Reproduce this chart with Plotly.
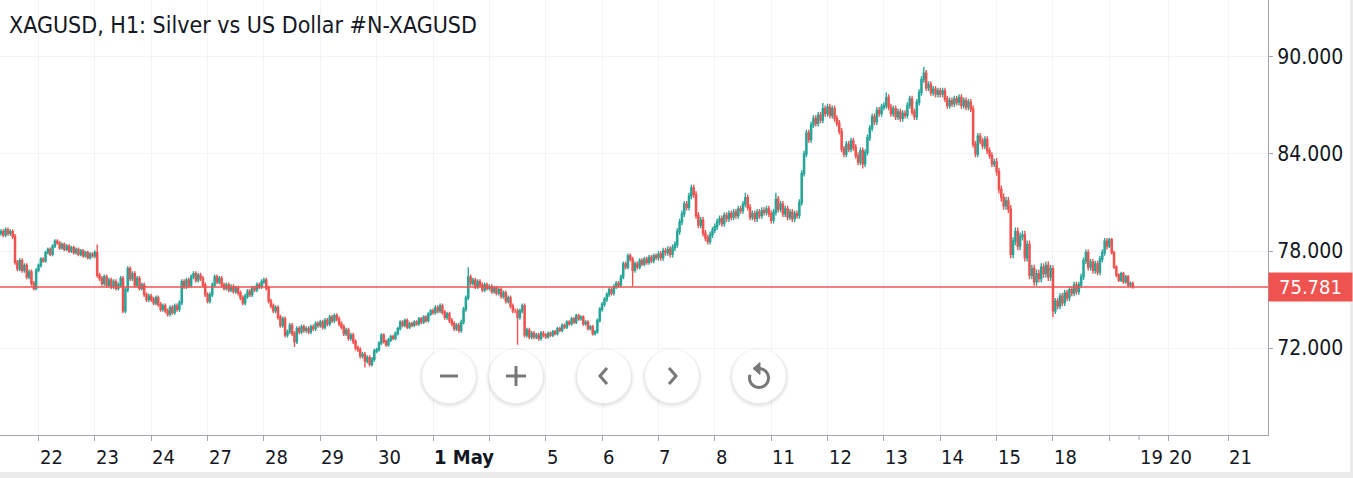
import math
import plotly.graph_objects as go

title = "XAGUSD, H1: Silver vs US Dollar #N-XAGUSD"
last_price = 75.781
first_open = 79.1

# hourly closes per trading day, open = previous close
apr21 = [79.2, 79.0, 79.3, 79.1, 79.2, 78.9, 77.3, 76.9, 77.4, 76.8, 77.1, 76.4, 76.7, 76.0, 75.7, 76.8]  # from 08:00
apr22 = [77.1, 77.5, 77.4, 77.9, 78.1, 77.8, 78.3, 78.6, 78.5, 78.2, 78.4, 78.1, 78.3, 78.0, 78.2, 77.9, 78.1, 77.8, 78.0, 77.7, 77.9, 77.6, 77.8, 77.7]
apr23 = [77.9, 76.5, 76.3, 76.0, 76.4, 75.9, 76.2, 75.8, 76.1, 75.7, 75.9, 76.3, 74.3, 75.6, 76.9, 76.3, 76.6, 75.9, 76.3, 75.7, 75.9, 75.3, 75.0, 75.2]
apr24 = [75.0, 74.8, 75.1, 74.7, 74.4, 74.6, 74.3, 74.1, 74.5, 74.2, 74.6, 74.4, 74.8, 76.1, 75.8, 76.2, 75.9, 76.4, 76.6, 76.2, 76.5, 76.3, 75.9, 75.3]
apr27 = [74.9, 75.3, 75.9, 76.4, 76.1, 76.3, 75.9, 75.7, 75.9, 75.6, 75.8, 75.5, 75.7, 75.4, 75.1, 74.8, 75.2, 75.5, 75.3, 75.7, 75.6, 75.9, 75.8, 76.1]
apr28 = [76.2, 75.7, 74.9, 74.6, 74.3, 74.5, 73.9, 73.4, 73.8, 72.8, 73.0, 73.4, 72.9, 72.4, 73.2, 73.0, 73.3, 73.1, 73.2, 73.0, 73.3, 73.2, 73.5, 73.4]
apr29 = [73.6, 73.3, 73.7, 73.5, 73.9, 73.7, 74.0, 73.8, 73.5, 73.3, 72.9, 73.1, 72.6, 72.8, 72.4, 72.0, 71.9, 71.5, 71.6, 71.2, 71.4, 71.0, 71.3, 71.8]
apr30 = [71.9, 72.3, 72.8, 72.4, 72.2, 72.5, 72.7, 72.6, 72.9, 73.2, 73.6, 73.4, 73.7, 73.3, 73.5, 73.4, 73.6, 73.5, 73.8, 73.6, 73.9, 73.7, 74.1, 74.3]
may01 = [74.2, 74.5, 74.3, 74.6, 74.2, 73.9, 74.1, 73.7, 73.5, 73.2, 73.4, 73.1, 73.6, 74.4, 75.1, 76.4, 76.0, 76.2, 75.8, 76.1, 75.9, 75.6, 75.9, 75.7]
may04 = [75.8, 75.5, 75.7, 75.4, 75.6, 75.2, 75.4, 74.9, 75.1, 74.6, 74.3, 74.3, 73.9, 74.3, 74.6, 72.8, 73.1, 72.7, 72.9, 72.7, 72.8, 72.6, 72.9, 72.8]
may05 = [72.7, 72.9, 72.8, 73.0, 72.9, 73.2, 73.1, 73.4, 73.3, 73.6, 73.5, 73.8, 73.6, 74.0, 73.8, 73.9, 73.5, 73.6, 73.2, 73.3, 72.9, 73.0, 73.7, 74.4]
may06 = [74.7, 75.0, 75.3, 75.6, 75.4, 75.8, 76.0, 75.9, 76.4, 77.2, 77.0, 77.7, 77.5, 76.8, 77.2, 77.0, 77.4, 77.2, 77.5, 77.3, 77.6, 77.4, 77.7, 77.6]
may07 = [77.8, 77.6, 78.0, 77.9, 78.1, 77.8, 78.2, 78.4, 79.2, 79.8, 80.3, 80.9, 80.7, 81.4, 81.9, 81.5, 80.2, 79.6, 79.9, 79.1, 78.8, 78.6, 79.0, 79.3]
may08 = [79.5, 79.8, 80.0, 79.7, 80.2, 80.0, 80.3, 80.1, 80.4, 80.2, 80.6, 80.5, 80.9, 81.3, 80.7, 80.1, 80.3, 80.0, 80.4, 80.2, 80.5, 80.4, 80.6, 80.3]
may11 = [79.9, 80.4, 81.2, 80.6, 80.9, 80.3, 80.6, 80.1, 80.4, 80.0, 80.3, 80.2, 81.0, 82.8, 84.0, 85.3, 84.9, 85.8, 86.2, 85.9, 86.4, 86.1, 86.8, 86.5]
may12 = [86.9, 86.4, 86.8, 86.2, 85.9, 85.4, 84.3, 84.0, 84.6, 84.3, 84.8, 84.4, 83.9, 83.5, 84.2, 83.4, 84.1, 85.0, 85.6, 86.3, 86.0, 86.7, 86.5, 86.9]
may13 = [87.0, 87.5, 86.9, 86.5, 86.8, 86.3, 86.6, 86.2, 86.5, 86.4, 87.0, 87.4, 86.6, 86.3, 87.2, 87.8, 88.6, 89.0, 88.1, 88.3, 87.8, 88.0, 87.7, 87.9]
may14 = [87.7, 87.9, 87.4, 87.0, 87.3, 87.1, 87.4, 87.2, 87.5, 87.0, 87.3, 86.9, 87.2, 86.8, 84.6, 84.0, 85.1, 84.8, 84.5, 84.9, 84.2, 83.9, 83.4, 83.5]
may15 = [82.9, 81.8, 81.3, 80.8, 81.1, 80.6, 77.8, 78.6, 79.2, 78.3, 78.9, 79.0, 77.6, 78.4, 76.5, 76.9, 76.1, 76.6, 76.3, 77.0, 76.6, 77.1, 76.4, 76.9]
may18 = [74.3, 74.9, 74.6, 75.2, 74.8, 75.4, 75.1, 75.6, 75.4, 75.9, 75.5, 75.9, 76.4, 77.4, 77.9, 77.0, 77.3, 76.8, 77.2, 76.7, 77.5, 77.9, 78.6, 78.3]
may19 = [78.7, 77.9, 77.0, 76.5, 76.2, 76.6, 76.1, 76.4, 75.9, 76.0, 75.781]

days = [apr21, apr22, apr23, apr24, apr27, apr28, apr29, apr30, may01, may04,
        may05, may06, may07, may08, may11, may12, may13, may14, may15, may18, may19]
day_wick = [0.15, 0.12, 0.15, 0.15, 0.15, 0.15, 0.15, 0.12, 0.15, 0.15,
            0.12, 0.15, 0.2, 0.2, 0.2, 0.2, 0.2, 0.2, 0.25, 0.2, 0.12]

# long wicks, keyed by (day index, hour)
spike_high = {(1, 1): 78.4, (7, 15): 77.0, (11, 14): 82.0, (12, 13): 81.6, (13, 2): 81.6,
              (13, 22): 87.15, (15, 1): 87.8, (15, 17): 89.4, (19, 0): 78.8}
spike_low = {(4, 13): 72.06, (5, 19): 70.8, (8, 12): 72.2, (10, 13): 75.8, (11, 21): 78.4,
             (14, 15): 83.1, (17, 6): 77.6, (18, 0): 73.9, (2, 7): 74.0}

# date labels along the time axis
x_labels = ["22", "23", "24", "27", "28", "29", "30", "1 May", "5", "6", "7", "8",
            "11", "12", "13", "14", "15", "18", "19", "20", "21"]
y_ticks = [72, 78, 84, 90]

# pixel geometry of the panel
W, H = 1353, 478
PW, PH = 1268, 435
DAY_PX, DAY0_PX = 56.36, 38.5


def px_x(px):
    return (px - DAY0_PX) / DAY_PX


def paper_x(px):
    return px / PW


def paper_y(py):
    return 1 - py / PH


# build candles
xs, op, hi, lo, cl = [], [], [], [], []
prev = first_open
for i, closes in enumerate(days):
    d = i - 1
    start = 8 if i == 0 else 0
    for k, close in enumerate(closes):
        hour = start + k
        xs.append(d + hour / 24)
        op.append(prev)
        cl.append(close)
        hi.append(max(max(prev, close) + day_wick[i], spike_high.get((d, hour), 0)))
        lo.append(min(min(prev, close) - day_wick[i], spike_low.get((d, hour), 999)))
        prev = close

UP, DOWN = "#26a69a", "#ef5350"
TXT = "#131722"
FONT = "DejaVu Sans Condensed, DejaVu Sans, sans-serif"

fig = go.Figure(go.Candlestick(
    x=xs, open=op, high=hi, low=lo, close=cl,
    increasing=dict(line=dict(color=UP, width=1.4), fillcolor=UP),
    decreasing=dict(line=dict(color=DOWN, width=1.4), fillcolor=DOWN),
    whiskerwidth=0, hoverinfo="skip",
))

# tick positions (in day units); last three sit in the future area
tick_days = [0, 1, 2, 3, 4, 5, 6, 7, 9, 10, 11, 12, 13, 14, 15, 16, 17, 18,
             px_x(1139), px_x(1168), px_x(1228)]
grid_days = list(range(0, 20)) + [px_x(1168), px_x(1228)]

fig.update_layout(
    width=W, height=H,
    margin=dict(l=0, r=W - PW, t=0, b=H - PH),
    paper_bgcolor="white", plot_bgcolor="white",
    showlegend=False,
    font=dict(family=FONT, color=TXT, size=20),
    xaxis=dict(
        range=[px_x(0), px_x(PW)], rangeslider=dict(visible=False),
        tickvals=grid_days, showticklabels=False,
        ticks="outside", ticklen=5, tickcolor="#a3a6af",
        showgrid=True, gridcolor="#f2f3f6", gridwidth=1,
        showline=True, linecolor="#a3a6af", zeroline=False,
    ),
    yaxis=dict(
        side="right", range=[66.621, 93.523],
        tickvals=y_ticks, ticktext=[f"{v:.3f}" for v in y_ticks],
        ticks="outside", ticklen=4, tickcolor="#a3a6af",
        tickfont=dict(size=21, color=TXT),
        showgrid=True, gridcolor="#f2f3f6",
        showline=True, linecolor="#a3a6af", zeroline=False,
    ),
)

shapes = []
annotations = []

# last price line and label
shapes.append(dict(type="line", xref="paper", yref="y", x0=0, x1=1, y0=last_price, y1=last_price,
                   line=dict(color=DOWN, width=1.5)))
annotations.append(dict(xref="paper", yref="y", x=1.0, y=last_price, xanchor="left", yanchor="middle",
                        text=f"{last_price:.3f}", showarrow=False, bgcolor=DOWN, width=79, height=24,
                        borderpad=2, font=dict(color="white", size=20, family=FONT)))

# extra tick mark for the last bar date
shapes.append(dict(type="line", xref="x", yref="paper", x0=px_x(1139), x1=px_x(1139),
                   y0=0, y1=paper_y(PH + 5), line=dict(color="#a3a6af", width=1)))

# date labels, left aligned on their ticks
for lab, td in zip(x_labels, tick_days):
    annotations.append(dict(xref="x", yref="paper", x=td, y=paper_y(457), xanchor="left", yanchor="middle",
                            text=f"<b>{lab}</b>" if lab == "1 May" else lab, showarrow=False,
                            xshift=-1, font=dict(size=20, color=TXT, family=FONT)))

# chart title
annotations.append(dict(xref="paper", yref="paper", x=paper_x(10), y=paper_y(25), xanchor="left",
                        yanchor="middle", text=title, showarrow=False, xshift=-3,
                        font=dict(size=23, color=TXT, family=FONT)))

# navigation buttons
ICON = "#787878"
btn_y = paper_y(376)
for bx in [449, 516, 604, 672, 759]:
    ax = paper_x(bx)
    base = dict(xref="paper", yref="paper", xsizemode="pixel", ysizemode="pixel", xanchor=ax, yanchor=btn_y)
    shapes.append(dict(base, type="circle", x0=-30, x1=30, y0=-32, y1=28,
                       fillcolor="rgba(0,0,0,0.035)", line=dict(width=0)))
    shapes.append(dict(base, type="circle", x0=-28.5, x1=28.5, y0=-30, y1=27,
                       fillcolor="rgba(0,0,0,0.05)", line=dict(width=0)))
    shapes.append(dict(base, type="circle", x0=-27, x1=27, y0=-27, y1=27,
                       fillcolor="white", line=dict(width=0)))

ln = dict(color=ICON, width=3)
minus = dict(xref="paper", yref="paper", xsizemode="pixel", ysizemode="pixel", yanchor=btn_y)
shapes.append(dict(minus, type="line", xanchor=paper_x(449), x0=-9, x1=9, y0=0, y1=0, line=ln))
shapes.append(dict(minus, type="line", xanchor=paper_x(516), x0=-10, x1=10, y0=0, y1=0, line=ln))
shapes.append(dict(minus, type="line", xanchor=paper_x(516), x0=0, x1=0, y0=-10, y1=10, line=ln))
shapes.append(dict(minus, type="path", xanchor=paper_x(604), path="M 3 8 L -4 0 L 3 -8", line=ln))
shapes.append(dict(minus, type="path", xanchor=paper_x(672), path="M -3 8 L 4 0 L -3 -8", line=ln))

# reset icon: open circle with arrow head
r = 9.5
pts = []
for a in range(100, -201, -10):
    t = math.radians(a)
    pts.append(f"{r * math.cos(t):.2f} {r * math.sin(t) - 2:.2f}")
shapes.append(dict(minus, type="path", xanchor=paper_x(759), path="M " + " L ".join(pts), line=ln))
shapes.append(dict(minus, type="path", xanchor=paper_x(759), path="M -6 7.5 L 1 13.5 L 1 1.5 Z",
                   fillcolor=ICON, line=dict(color=ICON, width=1)))

# light frame at the bottom and right edge
shapes.append(dict(type="rect", xref="paper", yref="paper", x0=paper_x(-2), x1=paper_x(W + 2),
                   y0=paper_y(472), y1=paper_y(H + 2), fillcolor="#ebebeb", line=dict(width=0)))
shapes.append(dict(type="rect", xref="paper", yref="paper", x0=paper_x(1350), x1=paper_x(W + 2),
                   y0=paper_y(-2), y1=paper_y(H + 2), fillcolor="#ebebeb", line=dict(width=0)))

fig.update_layout(shapes=shapes, annotations=annotations)

fig.write_html("out.html", config={"displayModeBar": False},
               post_script="document.body.style.margin='0';document.body.style.overflow='hidden';")
